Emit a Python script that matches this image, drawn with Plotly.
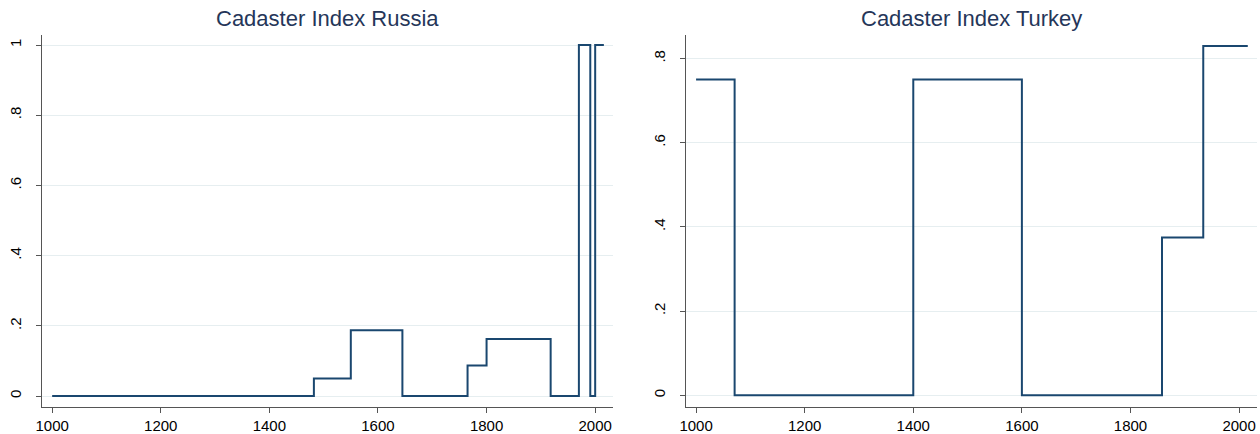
import plotly.graph_objects as go

# Data
russia_years = [1000, 1482, 1550, 1645, 1765, 1800, 1918, 1970, 1991, 2000, 2016]
russia_index = [0, 0.05, 0.1875, 0, 0.0875, 0.1625, 0, 1, 0, 1, 1]

turkey_years = [1000, 1071, 1400, 1600, 1858, 1934, 2016]
turkey_index = [0.75, 0, 0.75, 0, 0.375, 0.83, 0.83]

x_ticks = [1000, 1200, 1400, 1600, 1800, 2000]
russia_yticks = [0, 0.2, 0.4, 0.6, 0.8, 1]
russia_ylabels = ["0", ".2", ".4", ".6", ".8", "1"]
turkey_yticks = [0, 0.2, 0.4, 0.6, 0.8]
turkey_ylabels = ["0", ".2", ".4", ".6", ".8"]

titles = ["Cadaster Index Russia", "Cadaster Index Turkey"]

W, H = 1260, 434
LINE = "#1a476f"
FONT = "Liberation Sans, Arial, sans-serif"

fig = go.Figure()
fig.add_trace(go.Scatter(x=russia_years, y=russia_index, mode="lines",
                         line=dict(shape="hv", color=LINE, width=2),
                         xaxis="x", yaxis="y", showlegend=False, hoverinfo="skip"))
fig.add_trace(go.Scatter(x=turkey_years, y=turkey_index, mode="lines",
                         line=dict(shape="hv", color=LINE, width=2),
                         xaxis="x2", yaxis="y2", showlegend=False, hoverinfo="skip"))

def xax(dom, anchor):
    return dict(domain=dom, anchor=anchor, range=[981, 2033], tickvals=x_ticks,
                ticks="outside", ticklen=5, tickcolor="#555", showline=True,
                linecolor="#555", linewidth=1, showgrid=False, zeroline=False,
                tickfont=dict(size=15, color="#000", family=FONT))

def yax(dom, anchor, rng, vals, labels):
    return dict(domain=dom, anchor=anchor, range=rng, tickvals=vals, ticktext=labels,
                ticks="outside", ticklen=5, tickcolor="#555", showline=True,
                linecolor="#555", linewidth=1, showgrid=True, gridcolor="#e6eef0",
                gridwidth=1, zeroline=False, tickangle=-90, ticklabelstandoff=9,
                tickfont=dict(size=15, color="#000", family=FONT))

ydom = [1 - 407 / H, 1 - 35 / H]
fig.update_layout(
    width=W, height=H,
    margin=dict(l=0, r=0, t=0, b=0),
    paper_bgcolor="white", plot_bgcolor="white",
    xaxis=xax([36 / W, 610 / W], "y"),
    yaxis=yax(ydom, "x", [-0.031, 1.0285], russia_yticks, russia_ylabels),
    xaxis2=xax([683 / W, 1257 / W], "y2"),
    yaxis2=yax(ydom, "x2", [-0.028, 0.856], turkey_yticks, turkey_ylabels),
)

centers = [(36 + 610) / 2 / W, (683 + 1257) / 2 / W]
for c, t in zip(centers, titles):
    fig.add_annotation(text=t, x=c, y=1 - 19 / H, xref="paper", yref="paper",
                       xanchor="center", yanchor="middle", showarrow=False,
                       font=dict(size=22, color="#253659", family=FONT))

fig.write_html("out.html", config={"displayModeBar": False},
               post_script="document.body.style.margin='0';document.body.style.padding='0';document.body.style.overflow='hidden';")
